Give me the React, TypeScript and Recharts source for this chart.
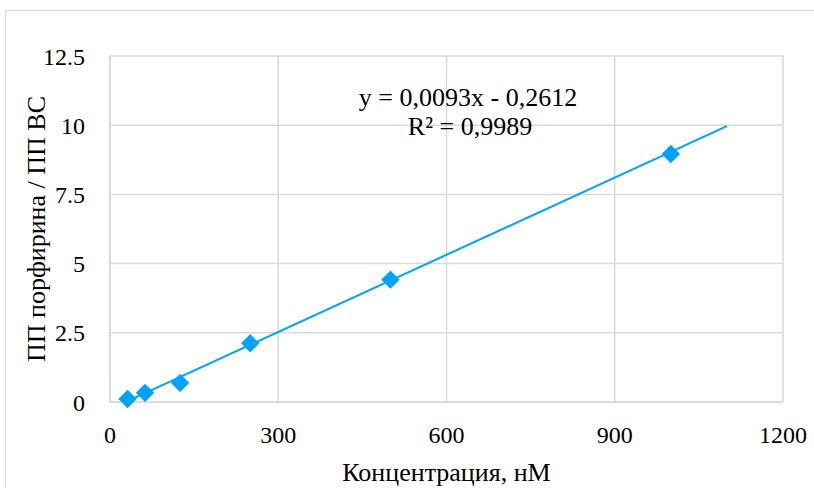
import React from "react";
import { ScatterChart, Scatter, XAxis, YAxis, CartesianGrid, Customized } from "recharts";

const concentrations = [31.25, 62.5, 125, 250, 500, 1000];
const ratios = [0.11, 0.33, 0.69, 2.12, 4.42, 8.96];
const trendX = [31.25, 1100];
const trendY = [0.0294, 9.9688];
const xTicks = [0, 300, 600, 900, 1200];
const yTicks = [0, 2.5, 5, 7.5, 10, 12.5];
const equationText = "y = 0,0093x - 0,2612";
const r2Text = "R² = 0,9989";
const xTitle = "Концентрация, нМ";
const yTitle = "ПП порфирина / ПП ВС";

const points = concentrations.map((x, i) => ({ x, y: ratios[i] }));
const trend = trendX.map((x, i) => ({ x, y: trendY[i] }));

const BLUE = "#00A2FF";
const GRID = "#d9d9d9";
const FONT = '"Liberation Serif", serif';

const Diamond = (props: any) => {
  const { cx, cy } = props;
  const r = 9.2;
  return (
    <polygon
      points={`${cx},${cy - r} ${cx + r},${cy} ${cx},${cy + r} ${cx - r},${cy}`}
      fill={BLUE}
    />
  );
};

const NoShape = () => <g />;

const Equation = () => (
  <g style={{ fontFamily: FONT }} fontSize={26} fill="#000" textAnchor="middle">
    <text x={468} y={106}>{equationText}</text>
    <text x={470} y={135}>{r2Text}</text>
  </g>
);

export default function App() {
  return (
    <div style={{ position: "absolute", left: 0, top: 0, width: 814, height: 488, overflow: "hidden", background: "#fff", fontFamily: FONT }}>
      <style>{`svg text, svg tspan { font-family: "Liberation Serif", serif !important; }`}</style>
      <div
        style={{
          position: "absolute",
          left: 5,
          top: 10,
          width: 830,
          height: 500,
          border: `1.5px solid ${GRID}`,
          boxSizing: "border-box",
        }}
      />
      <div style={{ position: "absolute", left: 0, top: 0 }}>
        <ScatterChart
          width={814}
          height={488}
          margin={{ top: 56, right: 31, bottom: 46, left: 50 }}
        >
          <CartesianGrid stroke={GRID} strokeWidth={1.5} />
          <XAxis
            type="number"
            dataKey="x"
            domain={[0, 1200]}
            ticks={xTicks}
            interval={0}
            tickLine={false}
            tickSize={0}
            tickMargin={24}
            axisLine={{ stroke: GRID, strokeWidth: 1.5 }}
            tick={{ fill: "#000", fontSize: 24 }}
            height={40}
            label={{ value: xTitle, position: "insideBottom", offset: -39, fill: "#000", fontSize: 26 }}
          />
          <YAxis
            type="number"
            dataKey="y"
            domain={[0, 12.5]}
            ticks={yTicks}
            interval={0}
            tickLine={false}
            tickSize={0}
            tickMargin={25}
            axisLine={{ stroke: GRID, strokeWidth: 1.5 }}
            tick={{ fill: "#000", fontSize: 24 }}
            width={60}
            label={{ value: yTitle, angle: -90, position: "insideLeft", dx: -19, dy: 0, fill: "#000", fontSize: 26, style: { textAnchor: "middle" } }}
          />
          <Scatter
            data={trend}
            line={{ stroke: BLUE, strokeWidth: 2 }}
            shape={NoShape}
            isAnimationActive={false}
          />
          <Scatter data={points} shape={Diamond} fill={BLUE} isAnimationActive={false} />
          <Customized component={Equation} />
        </ScatterChart>
      </div>
    </div>
  );
}
